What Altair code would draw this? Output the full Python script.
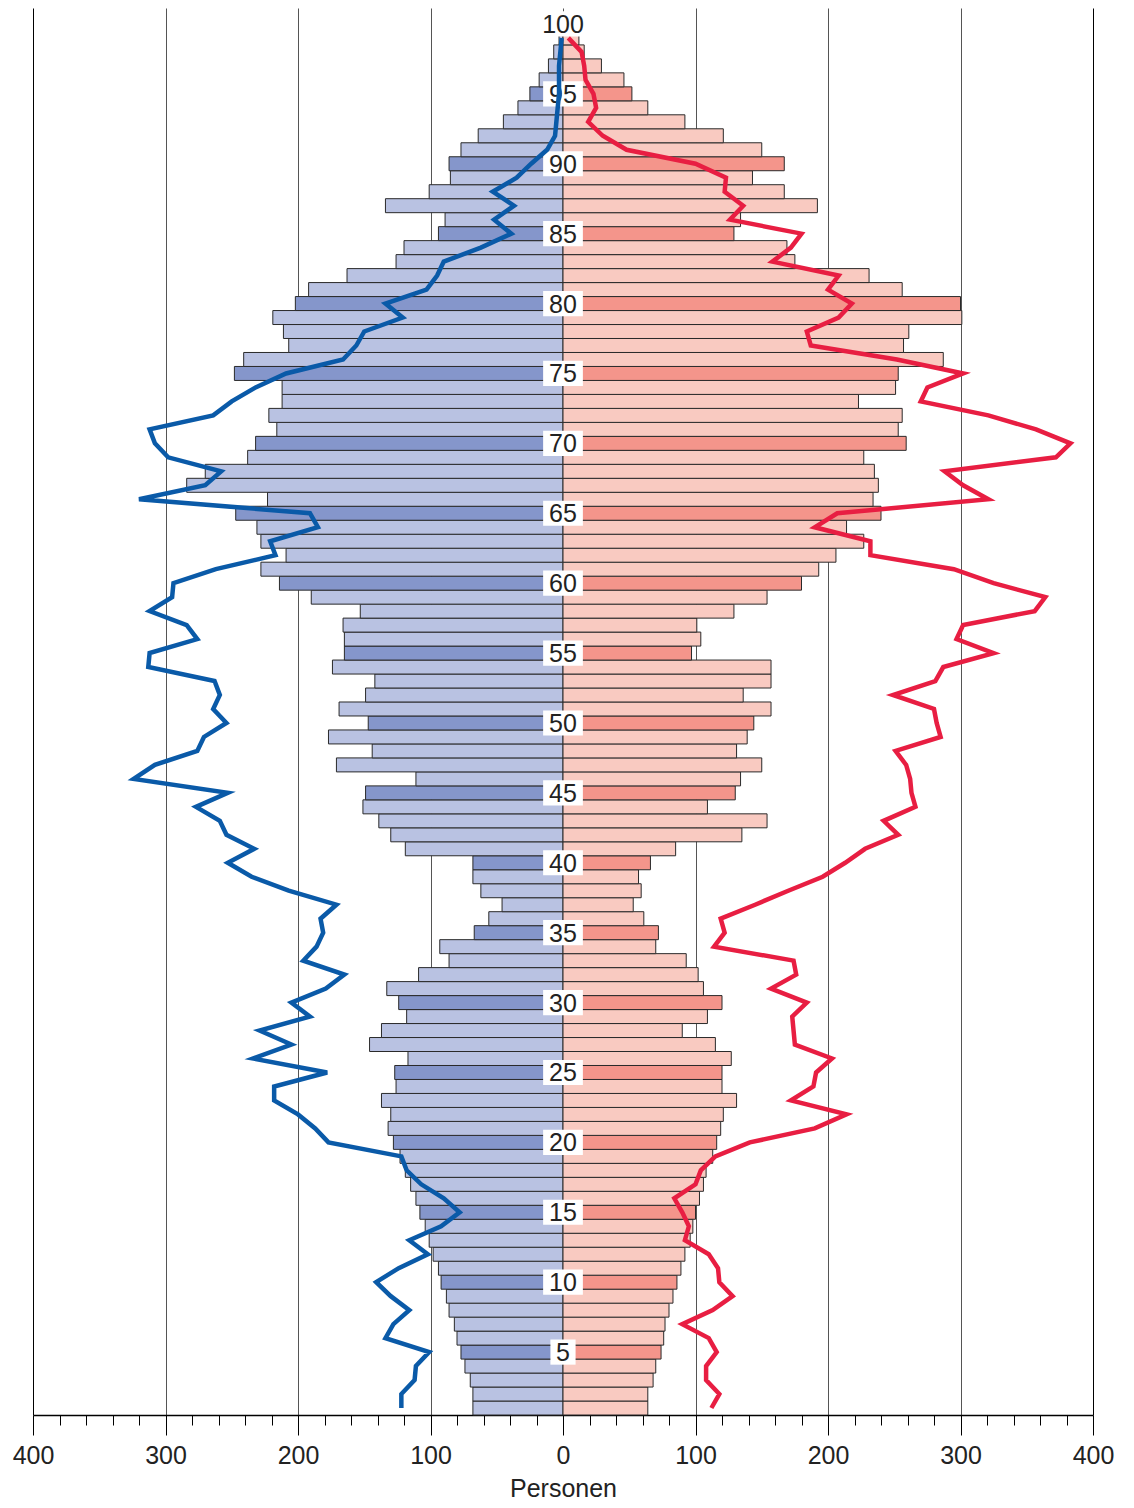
import altair as alt
import pandas as pd

# ---------------- data ----------------
ages = list(range(1, 101))
male_bars = [68, 68, 70, 74, 77, 80, 82, 86, 88, 92,
             94, 98, 101, 104, 108, 111, 115, 119, 123, 128,
             132, 130, 137, 126, 127, 117, 146, 137, 118, 124,
             133, 109, 86, 93, 67, 56, 46, 62, 68, 68,
             119, 130, 139, 151, 149, 111, 171, 144, 177, 147,
             169, 149, 142, 174, 165, 165, 166, 153, 190, 214,
             228, 209, 228, 231, 247, 223, 284, 270, 238, 232,
             216, 222, 212, 212, 248, 241, 207, 211, 219, 202,
             192, 163, 126, 120, 94, 89, 134, 101, 85, 86,
             77, 64, 45, 34, 25, 18, 11, 7, 3, 1]
female_bars = [64, 64, 68, 70, 74, 76, 77, 80, 83, 86,
               89, 92, 96, 98, 100, 103, 106, 108, 113, 116,
               119, 121, 131, 120, 120, 127, 115, 90, 109, 120,
               106, 102, 93, 70, 72, 61, 53, 59, 57, 66,
               85, 135, 154, 109, 130, 134, 150, 131, 139, 144,
               157, 136, 157, 157, 97, 104, 101, 129, 154, 180,
               193, 206, 227, 214, 240, 234, 238, 235, 227, 259,
               253, 256, 223, 251, 253, 287, 257, 261, 301, 300,
               256, 231, 175, 169, 129, 134, 192, 167, 143, 167,
               150, 121, 92, 64, 52, 46, 29, 16, 12, 5]

line_ages = list(range(1, 100))
male_line = [122, 122, 112, 111, 101, 134, 128, 116, 130, 141,
             124, 102, 116, 92, 78, 90, 107, 118, 122, 177,
             187, 200, 218, 218, 178, 234, 205, 229, 191, 205,
             179, 165, 196, 186, 181, 183, 171, 207, 235, 253,
             233, 254, 259, 277, 253, 324, 308, 276, 271, 254,
             264, 259, 263, 313, 312, 276, 284, 312, 295, 294,
             262, 217, 221, 185, 191, 320, 270, 258, 298, 308,
             312, 264, 250, 232, 209, 166, 156, 150, 121, 134,
             103, 95, 90, 62, 39, 52, 37, 53, 35, 24,
             12, 6, 5, 4, 3, 3, 3, 2, 1]
female_line = [112, 118, 108, 108, 116, 110, 90, 113, 128, 118,
               117, 110, 92, 95, 90, 84, 100, 104, 115, 141,
               190, 214, 172, 189, 191, 203, 175, 174, 173, 184,
               157, 176, 174, 114, 122, 119, 145, 170, 196, 213,
               228, 253, 242, 266, 263, 262, 259, 251, 285, 282,
               280, 249, 281, 287, 325, 297, 302, 356, 364, 325,
               295, 232, 232, 190, 207, 321, 302, 288, 372, 383,
               357, 321, 270, 275, 302, 252, 187, 184, 208, 218,
               200, 208, 158, 172, 180, 126, 136, 122, 123, 100,
               48, 30, 19, 25, 23, 17, 16, 14, 4]

label_ages = list(range(5, 101, 5))
x_ticks = list(range(-400, 401, 20))

# ---------------- tables ----------------
rows = []
for a, m, f in zip(ages, male_bars, female_bars):
    dark = a % 5 == 0
    rows.append({"age": a, "lo": -m, "hi": 0,
                 "fill": "#8596cb" if dark else "#b9c2e2"})
    rows.append({"age": a, "lo": 0, "hi": f,
                 "fill": "#f4958b" if dark else "#f9cac1"})
bars = pd.DataFrame(rows)
bars["y0"] = bars["age"] - 0.5
bars["y1"] = bars["age"] + 0.5

labels = pd.DataFrame({"age": label_ages})
labels["text"] = labels["age"].astype(str)
labels["half"] = labels["text"].str.len() * 5.5 + 4
labels["lo"] = -labels["half"]
labels["hi"] = labels["half"]
labels["y0"] = labels["age"] - 0.9
labels["y1"] = labels["age"] + 0.9
labels["cx"] = 0

lines = pd.concat([
    pd.DataFrame({"age": line_ages, "v": [-v for v in male_line], "s": "m"}),
    pd.DataFrame({"age": line_ages, "v": female_line, "s": "f"}),
])

# ---------------- chart ----------------
xscale = alt.Scale(domain=[-400, 400], nice=False, zero=False)
yscale = alt.Scale(domain=[0.5, 101.14], nice=False, zero=False)
FONT = "Liberation Sans, Arial, Helvetica, sans-serif"

xaxis = alt.Axis(
    values=x_ticks,
    title="Personen",
    titleFont=FONT, titleFontSize=25, titleFontWeight="normal",
    titleColor="#222", titlePadding=8,
    labelExpr="datum.value % 100 === 0 ? format(abs(datum.value), 'd') : ''",
    labelFont=FONT, labelFontSize=25, labelColor="#222",
    labelPadding=8, labelFlush=False, labelOverlap=False,
    tickSize={"condition": {"test": "datum.value % 100 === 0", "value": 20}, "value": 10},
    tickColor="#000", tickWidth=1,
    domainColor="#000", domainWidth=1.5,
    grid=True,
    gridOpacity={"condition": {"test": "datum.value % 100 === 0", "value": 1}, "value": 0},
    gridColor={"condition": {"test": "abs(datum.value) === 400", "value": "#000"}, "value": "#555"},
    gridWidth=1,
)

bar_layer = alt.Chart(bars).mark_rect(stroke="#2a2a2a", strokeWidth=1).encode(
    x=alt.X("lo:Q", scale=xscale, axis=xaxis),
    x2="hi:Q",
    y=alt.Y("y0:Q", scale=yscale, axis=None),
    y2="y1:Q",
    fill=alt.Fill("fill:N", scale=None),
)

box_layer = alt.Chart(labels).mark_rect(fill="white").encode(
    x=alt.X("lo:Q", scale=xscale, axis=xaxis),
    x2="hi:Q",
    y=alt.Y("y0:Q", scale=yscale, axis=None),
    y2="y1:Q",
)

text_layer = alt.Chart(labels).mark_text(
    font=FONT, fontSize=25, color="#222", align="center", baseline="middle", dy=1
).encode(
    x=alt.X("cx:Q", scale=xscale, axis=xaxis),
    y=alt.Y("age:Q", scale=yscale, axis=None),
    text="text:N",
)

line_layer = alt.Chart(lines).mark_line(strokeWidth=4.5, strokeJoin="miter").encode(
    x=alt.X("v:Q", scale=xscale, axis=xaxis),
    y=alt.Y("age:Q", scale=yscale, axis=None),
    color=alt.Color("s:N", scale=alt.Scale(domain=["m", "f"], range=["#0a5aa8", "#e81e42"]), legend=None),
    order="age:Q",
    detail="s:N",
)

chart = alt.layer(bar_layer, box_layer, text_layer, line_layer).properties(
    width=1060,
    height=1407,
    autosize=alt.AutoSizeParams(type="none"),
    padding={"left": 25, "top": 0, "right": 33, "bottom": 92},
).configure_view(stroke=None)

chart.save("out.html", embed_options={"renderer": "svg", "actions": False})
